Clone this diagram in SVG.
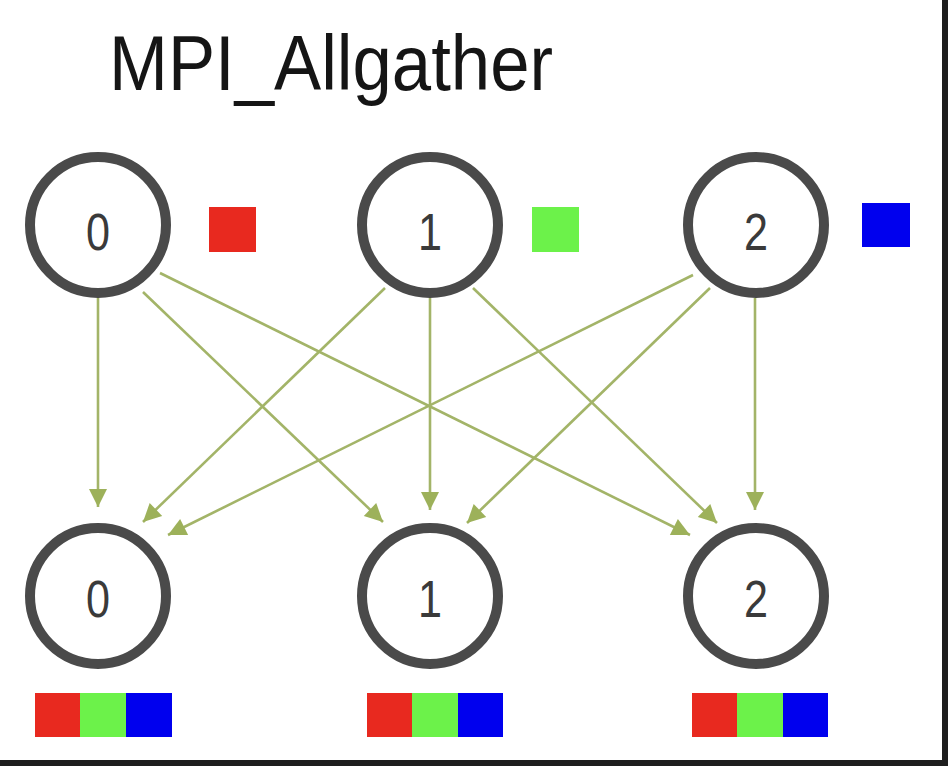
<svg xmlns="http://www.w3.org/2000/svg" width="948" height="766" viewBox="0 0 948 766">
<defs>
<style>
.node{fill:#fff;stroke:#4a4a4a;stroke-width:10}
.lbl{font-family:"Liberation Sans",Arial,sans-serif;font-size:52px;fill:#3a3a3a;text-anchor:middle}
.edge{stroke:#a3b468;stroke-width:2.6;fill:none;marker-end:url(#ah)}
.r{fill:#e8291f}.g{fill:#6cf24a}.b{fill:#0000ee}
</style>
<marker id="ah" viewBox="0 0 10 10" refX="10" refY="5" markerUnits="userSpaceOnUse" markerWidth="24" markerHeight="18" orient="auto">
<path d="M0,0 L10,5 L0,10 z" fill="#9db15a"/>
</marker>
</defs>
<rect width="948" height="766" fill="#fff"/>
<rect x="942" y="0" width="6" height="766" fill="#1e1e1e"/>
<rect x="0" y="760" width="948" height="6" fill="#1e1e1e"/>
<text x="109" y="90" font-family="Liberation Sans,Arial,sans-serif" font-size="77" fill="#151515" textLength="444" lengthAdjust="spacingAndGlyphs">MPI_Allgather</text>
<g id="connectors">
<line class="edge" x1="98" y1="298" x2="98" y2="507"/>
<line class="edge" x1="143" y1="292" x2="383" y2="522"/>
<line class="edge" x1="160" y1="273" x2="690" y2="535"/>
<line class="edge" x1="385" y1="288" x2="143" y2="522"/>
<line class="edge" x1="430" y1="298" x2="430" y2="510"/>
<line class="edge" x1="473" y1="288" x2="717" y2="523"/>
<line class="edge" x1="693" y1="275" x2="168" y2="535"/>
<line class="edge" x1="710" y1="288" x2="467" y2="523"/>
<line class="edge" x1="755" y1="298" x2="755" y2="510"/>
</g>
<g id="src0"><circle class="node" cx="98" cy="225" r="68"/><text class="lbl" x="98" y="250" textLength="24" lengthAdjust="spacingAndGlyphs">0</text></g>
<g id="src1"><circle class="node" cx="430" cy="225" r="68"/><text class="lbl" x="430" y="250" textLength="24" lengthAdjust="spacingAndGlyphs">1</text></g>
<g id="src2"><circle class="node" cx="756" cy="225" r="68"/><text class="lbl" x="756" y="250" textLength="24" lengthAdjust="spacingAndGlyphs">2</text></g>
<g id="dst0"><circle class="node" cx="98" cy="596" r="68"/><text class="lbl" x="98" y="617" textLength="24" lengthAdjust="spacingAndGlyphs">0</text></g>
<g id="dst1"><circle class="node" cx="430" cy="596" r="68"/><text class="lbl" x="430" y="617" textLength="24" lengthAdjust="spacingAndGlyphs">1</text></g>
<g id="dst2"><circle class="node" cx="756" cy="596" r="68"/><text class="lbl" x="756" y="617" textLength="24" lengthAdjust="spacingAndGlyphs">2</text></g>
<g id="data-src">
<rect class="r" x="209" y="207" width="47" height="45"/>
<rect class="g" x="532" y="207" width="47" height="45"/>
<rect class="b" x="862" y="203" width="48" height="44"/>
</g>
<g id="data-dst0"><rect class="r" x="35" y="693" width="45" height="44"/><rect class="g" x="80" y="693" width="46" height="44"/><rect class="b" x="126" y="693" width="46" height="44"/></g>
<g id="data-dst1"><rect class="r" x="367" y="693" width="45" height="44"/><rect class="g" x="412" y="693" width="46" height="44"/><rect class="b" x="458" y="693" width="45" height="44"/></g>
<g id="data-dst2"><rect class="r" x="692" y="693" width="45" height="44"/><rect class="g" x="737" y="693" width="46" height="44"/><rect class="b" x="783" y="693" width="45" height="44"/></g>
</svg>
